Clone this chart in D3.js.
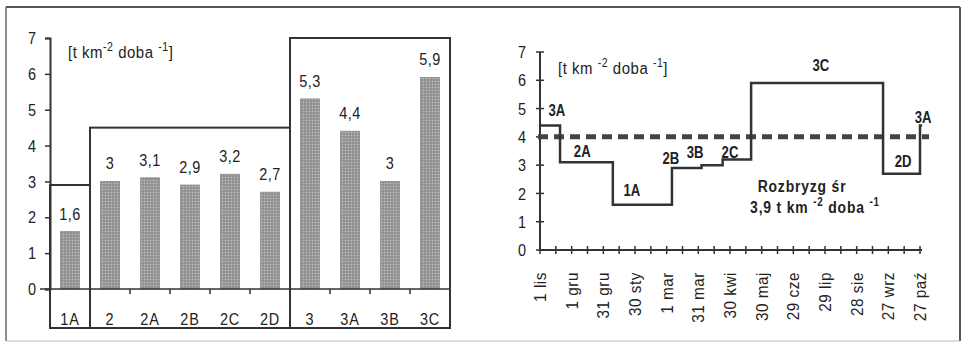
<!DOCTYPE html>
<html><head><meta charset="utf-8">
<script src="https://cdn.jsdelivr.net/npm/d3@7"></script>
<style>
body{margin:0;background:#fff;}
text{font-family:"Liberation Sans","Arial",sans-serif;fill:#222;}
</style></head>
<body><svg id="c" width="962" height="350"></svg>
<script>
// ---- Left chart data ----
const categories = ["1A","2","2A","2B","2C","2D","3","3A","3B","3C"];
const values = [1.6,3,3.1,2.9,3.2,2.7,5.3,4.4,3,5.9];
const valueLabels = ["1,6","3","3,1","2,9","3,2","2,7","5,3","4,4","3","5,9"];
const groupFirst = ["1A","2","3"];
const groupLast = ["1A","2D","3C"];
const groupLevel = [2.9,4.5,7];
const yTicksLeft = [0,1,2,3,4,5,6,7];

// ---- Right chart data ----
const dateLabels = ["1 lis","1 gru","31 gru","30 sty","1 mar","31 mar","30 kwi","30 maj","29 cze","29 lip","28 sie","27 wrz","27 paź"];
const dateDays = [0,30,60,90,120,150,180,210,240,270,300,330,360];
const minorDays = [15,45,75,105,135,165,195,225,255,285,315,345];
const stepNames = ["3A","2A","1A","2B","3B","2C","3C","2D","3A"];
const stepStart = [0,19,69,125,153,173,200,325,360];
const stepEnd   = [19,69,125,153,173,200,325,360,362];
const stepValue = [4.4,3.1,1.6,2.9,3.0,3.2,5.9,2.7,4.4];
const labelDay  = [16,40,87,124,147,180,266,344,363];
const labelVal  = [4.95,3.5,2.12,3.25,3.46,3.46,6.54,3.15,4.7];
const meanLine = 4.0;
const yTicksRight = [0,1,2,3,4,5,6,7];

const svg = d3.select("#c");
const defs = svg.append("defs");
const pat = defs.append("pattern").attr("id","dots").attr("width",3).attr("height",3).attr("patternUnits","userSpaceOnUse");
pat.append("rect").attr("width",3).attr("height",3).attr("fill","#9a9a9a");
pat.append("rect").attr("x",0).attr("y",0).attr("width",1).attr("height",1).attr("fill","#c4c4c4");
pat.append("rect").attr("x",1.5).attr("y",1.5).attr("width",1).attr("height",1).attr("fill","#7a7a7a");

const tr = (x,y,sx)=>`translate(${x},${y}) scale(${sx},1)`;

// outer frame
svg.append("line").attr("x1",6).attr("x2",960).attr("y1",7).attr("y2",7).attr("stroke","#555").attr("stroke-width",2);
svg.append("line").attr("x1",6).attr("x2",6).attr("y1",7).attr("y2",341).attr("stroke","#666").attr("stroke-width",1.5);
svg.append("line").attr("x1",960).attr("x2",960).attr("y1",7).attr("y2",341).attr("stroke","#555").attr("stroke-width",2);
svg.append("line").attr("x1",6).attr("x2",960).attr("y1",341).attr("y2",341).attr("stroke","#bbb").attr("stroke-width",1);

// ===== Left chart =====
const L = {x0:50,x1:450,y0:289,y1:38,boxBottom:328};
const xL = d3.scaleBand().domain(categories).range([L.x0,L.x1]);
const yL = d3.scaleLinear().domain([0,7]).range([L.y0,L.y1]);
const gL = svg.append("g");

// group frames
groupFirst.forEach((f,i)=>{
  const xa = xL(f), xb = xL(groupLast[i]) + xL.bandwidth();
  gL.append("rect").attr("x",xa).attr("y",yL(groupLevel[i])).attr("width",xb-xa).attr("height",L.boxBottom-yL(groupLevel[i]))
    .attr("fill","none").attr("stroke","#333").attr("stroke-width",2);
});

// bars
const bw = xL.bandwidth()*0.47;
gL.selectAll("rect.bar").data(categories).join("rect").attr("class","bar")
  .attr("x",d=>xL(d)+xL.bandwidth()/2-bw/2).attr("width",bw)
  .attr("y",(d,i)=>yL(values[i])).attr("height",(d,i)=>L.y0-yL(values[i]))
  .attr("fill","url(#dots)").attr("stroke","#888").attr("stroke-width",0.8);

gL.selectAll("text.vl").data(categories).join("text").attr("class","vl")
  .attr("transform",(d,i)=>tr(xL(d)+xL.bandwidth()/2, yL(values[i])-12, 0.85))
  .attr("text-anchor","middle").attr("font-size",17).attr("letter-spacing",0.5).text((d,i)=>valueLabels[i]);

// x axis line + ticks
const axB = d3.axisBottom(xL).tickSize(5).tickFormat("");
const gAxB = gL.append("g").attr("transform",`translate(0,${L.y0})`).call(axB);
gAxB.select(".domain").remove();
gAxB.selectAll(".tick line").attr("stroke","#333").attr("stroke-width",1.5)
  .attr("transform",`translate(${-xL.bandwidth()/2},0)`);
gL.append("line").attr("x1",L.x0-10).attr("x2",L.x1).attr("y1",L.y0).attr("y2",L.y0).attr("stroke","#333").attr("stroke-width",1.5);
gL.selectAll("text.cat").data(categories).join("text").attr("class","cat")
  .attr("transform",d=>tr(xL(d)+xL.bandwidth()/2, L.y0+36, 0.85))
  .attr("text-anchor","middle").attr("font-size",17).attr("letter-spacing",1).text(d=>d);

// y axis
const axL = d3.axisLeft(yL).tickValues(yTicksLeft).tickSize(5).tickFormat("");
const gAxL = gL.append("g").attr("transform",`translate(${L.x0},0)`).call(axL);
gAxL.select(".domain").attr("stroke","#333").attr("stroke-width",2);
gAxL.selectAll(".tick line").attr("stroke","#333").attr("stroke-width",1.5);
gL.selectAll("text.yl").data(yTicksLeft).join("text").attr("class","yl")
  .attr("transform",d=>tr(L.x0-14, yL(d), 0.85)).attr("dy","0.36em").attr("text-anchor","end").attr("font-size",17).text(d=>d);

const unitL = gL.append("text").attr("transform",tr(68,58,0.88)).attr("font-size",17).attr("letter-spacing",0.6);
unitL.append("tspan").text("[t km");
unitL.append("tspan").attr("dy",-7).attr("font-size",12).text("-2");
unitL.append("tspan").attr("dy",7).text(" doba ");
unitL.append("tspan").attr("dy",-7).attr("font-size",12).text("-1");
unitL.append("tspan").attr("dy",7).text("]");

// ===== Right chart =====
const R = {x0:540,x1:920,y0:250,y1:52};
const xR = d3.scaleLinear().domain([0,360]).range([R.x0,R.x1]);
const yR = d3.scaleLinear().domain([0,7]).range([R.y0,R.y1]);
const gR = svg.append("g");

// y axis
gR.append("line").attr("x1",R.x0).attr("x2",R.x0).attr("y1",yR(7)).attr("y2",R.y0).attr("stroke","#333").attr("stroke-width",2);
gR.selectAll("line.yt").data(yTicksRight).join("line").attr("class","yt")
  .attr("x1",R.x0-4).attr("x2",R.x0+4).attr("y1",d=>yR(d)).attr("y2",d=>yR(d)).attr("stroke","#333").attr("stroke-width",1.5);
gR.selectAll("text.yl").data(yTicksRight).join("text").attr("class","yl")
  .attr("transform",d=>tr(R.x0-14, yR(d), 0.85)).attr("dy","0.36em").attr("text-anchor","end").attr("font-size",17).text(d=>d);

// x axis
gR.append("line").attr("x1",R.x0).attr("x2",R.x1+2).attr("y1",R.y0).attr("y2",R.y0).attr("stroke","#333").attr("stroke-width",2);
gR.selectAll("line.xt").data(dateDays.concat(minorDays)).join("line").attr("class","xt")
  .attr("x1",d=>xR(d)).attr("x2",d=>xR(d)).attr("y1",R.y0-4).attr("y2",R.y0+4).attr("stroke","#333").attr("stroke-width",1.5);
gR.selectAll("text.xl").data(dateLabels).join("text").attr("class","xl")
  .attr("transform",(d,i)=>`translate(${xR(dateDays[i])},${R.y0+22}) rotate(-90) scale(0.9,1)`)
  .attr("dy","0.36em").attr("text-anchor","end").attr("font-size",17).attr("letter-spacing",0.6).text(d=>d);

// mean dashed line
gR.append("line").attr("x1",R.x0-2).attr("x2",R.x1+9).attr("y1",yR(meanLine)).attr("y2",yR(meanLine))
  .attr("stroke","#444").attr("stroke-width",5).attr("stroke-dasharray","10,6");

// step line
const pts = [];
stepValue.forEach((v,i)=>{ pts.push([stepStart[i],v]); pts.push([stepEnd[i],v]); });
const line = d3.line().x(d=>xR(d[0])).y(d=>yR(d[1]));
gR.append("path").attr("d",line(pts)).attr("fill","none").attr("stroke","#333").attr("stroke-width",2.5);

// step labels
gR.selectAll("text.sl").data(stepNames).join("text").attr("class","sl")
  .attr("transform",(d,i)=>tr(xR(labelDay[i]), yR(labelVal[i]), 0.82))
  .attr("dy","0.36em").attr("text-anchor","middle").attr("font-size",16).attr("font-weight","bold").text(d=>d);

gR.append("text").attr("transform",tr(802,186,0.82)).attr("dy","0.36em").attr("text-anchor","middle")
  .attr("font-size",17).attr("font-weight","bold").attr("letter-spacing",1).text("Rozbryzg śr");
const mt = gR.append("text").attr("transform",tr(815,207,0.82)).attr("dy","0.36em").attr("text-anchor","middle")
  .attr("font-size",17).attr("font-weight","bold").attr("letter-spacing",1);
mt.append("tspan").text("3,9 t km ");
mt.append("tspan").attr("dy",-7).attr("font-size",12).text("-2");
mt.append("tspan").attr("dy",7).text(" doba ");
mt.append("tspan").attr("dy",-7).attr("font-size",12).text("-1");

const unitR = gR.append("text").attr("transform",tr(558,74,0.88)).attr("font-size",17).attr("letter-spacing",0.6);
unitR.append("tspan").text("[t km ");
unitR.append("tspan").attr("dy",-7).attr("font-size",12).text("-2");
unitR.append("tspan").attr("dy",7).text(" doba ");
unitR.append("tspan").attr("dy",-7).attr("font-size",12).text("-1");
unitR.append("tspan").attr("dy",7).text("]");
</script></body></html>
